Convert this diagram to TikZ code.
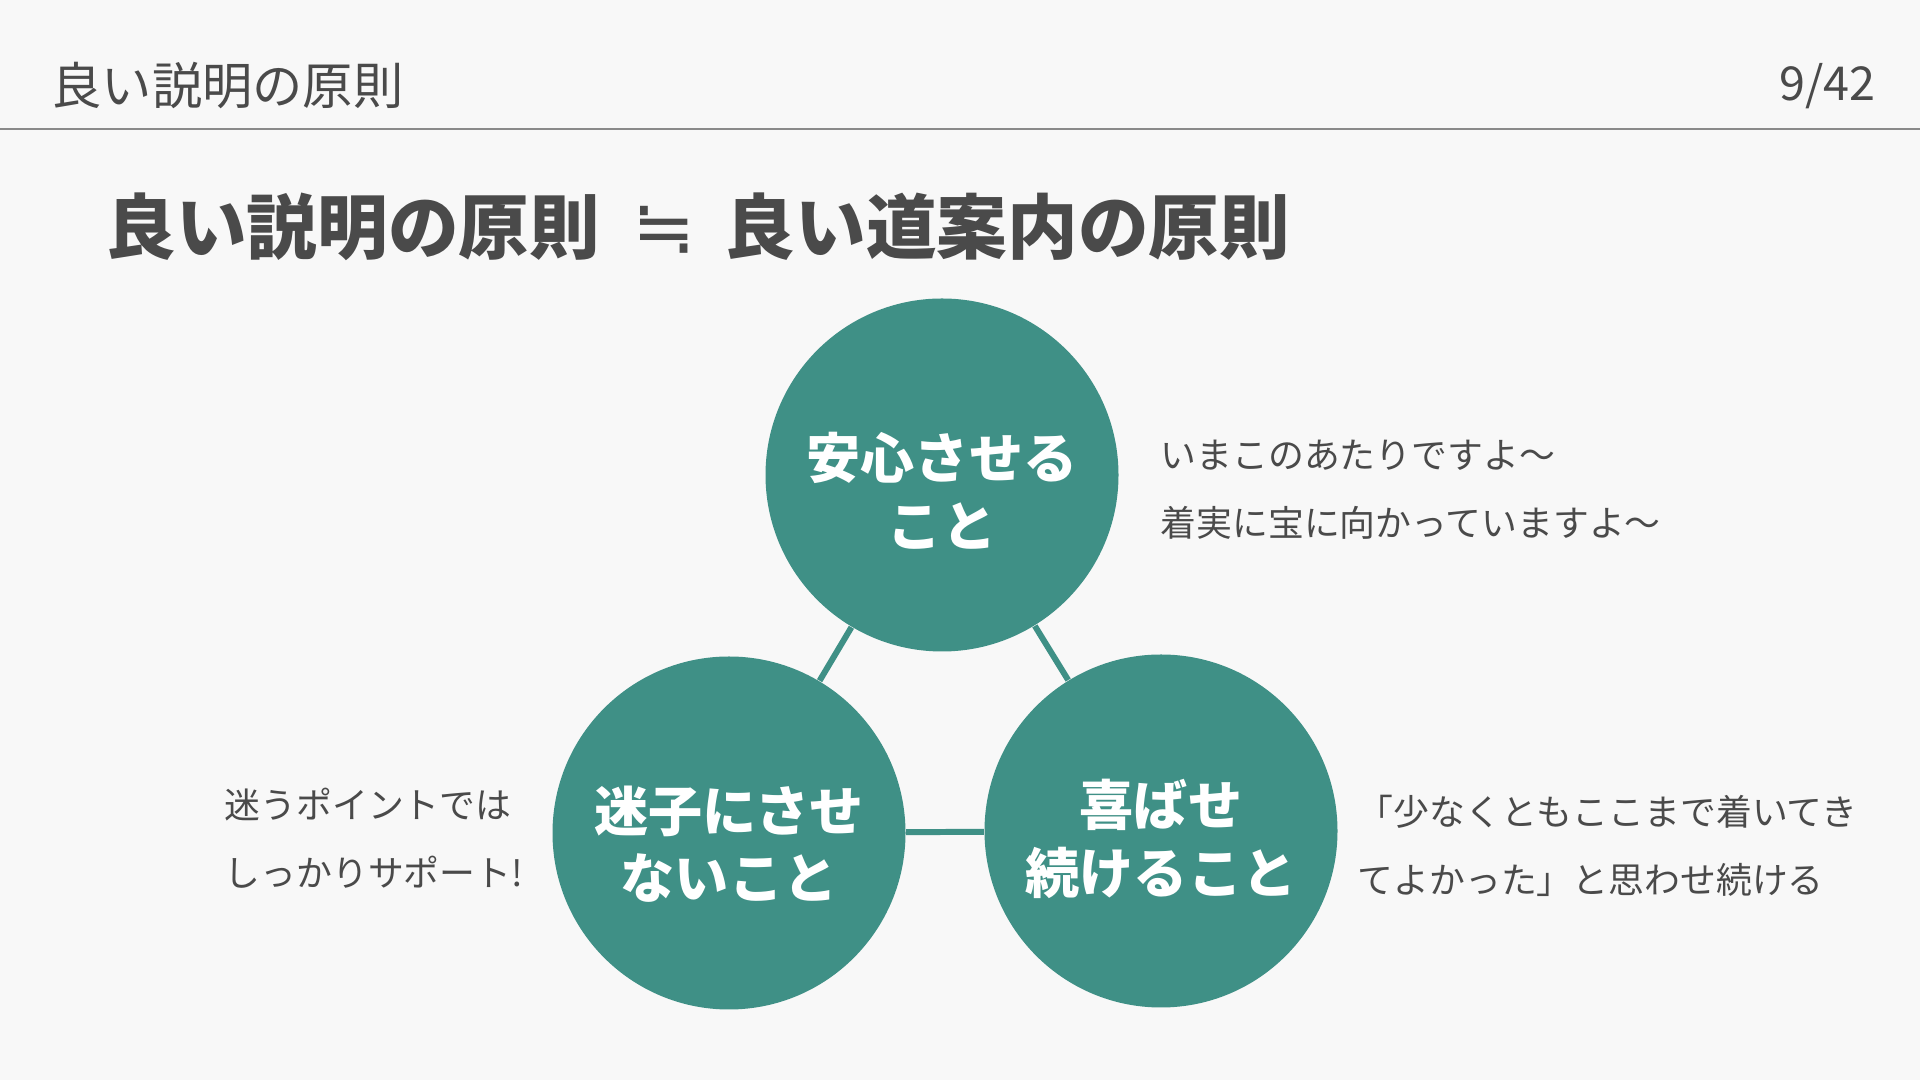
\documentclass[tikz,border=0pt]{standalone}
\usepackage{fontspec}
\setmainfont{Noto Sans CJK JP}
\newfontfamily\symfont{DejaVu Sans}
\definecolor{paper}{HTML}{F8F8F8}
\definecolor{ink}{HTML}{4A4A4A}
\definecolor{rulegray}{HTML}{8A8A8A}
\definecolor{sea}{HTML}{3F9086}
\begin{document}
\begin{tikzpicture}[
  circ/.style={circle, fill=sea, minimum size=3.53cm, inner sep=0pt},
  circtext/.style={text=white, align=center, inner sep=0pt,
    font=\fontsize{15.4}{19.2}\selectfont\bfseries},
  memo/.style={text=ink, align=left, inner sep=0pt, anchor=west,
    font=\fontsize{10.2}{19.3}\selectfont},
  link/.style={sea, line width=1.7pt}
]
  % page
  \fill[paper] (0,0) rectangle (19.2,10.8);
  \useasboundingbox (0,0) rectangle (19.2,10.8);
  % header
  \node[anchor=west, inner sep=0pt, text=ink, font=\fontsize{14.3}{17}\selectfont] (head) at (0.51,9.94) {良い説明の原則};
  \node[anchor=east, inner sep=0pt, text=ink, font=\fontsize{13.3}{16}\selectfont] (page) at (18.76,9.94) {9/42};
  \draw[rulegray, line width=0.6pt] (0,9.51) -- (19.2,9.51);
  % title
  \node[anchor=west, inner sep=0pt, text=ink, font=\fontsize{20.1}{24}\selectfont\bfseries] (title) at (1.05,8.53) {良い説明の原則\hspace{0.16cm} {\symfont\mdseries\fontsize{21.5}{24}\selectfont ≒} \hspace{0.13cm}良い道案内の原則};
  % three circles
  \node[circ] (calm) at (9.42,6.05) {};
  \node[circ] (lost) at (7.29,2.47) {};
  \node[circ] (joy) at (11.61,2.49) {};
  \node[circtext] (calmtext) at ([yshift=-0.16cm]calm) {安心させる\\こと};
  \node[circtext] (losttext) at ([yshift=-0.11cm]lost) {迷子にさせ\\ないこと};
  \node[circtext] (joytext) at ([yshift=-0.08cm]joy) {喜ばせ\\続けること};
  \draw[link] (calm) -- (lost);
  \draw[link] (calm) -- (joy);
  \draw[link] (lost) -- (joy);
  % notes
  \node[memo] (calmnote) at (11.60,5.905) {いまこのあたりですよ〜\\着実に宝に向かっていますよ〜};
  \node[memo] (lostnote) at (2.24,2.42) {迷うポイントでは\\しっかりサポート!};
  \node[memo] (joynote) at (13.57,2.345) {「少なくともここまで着いてき\\てよかった」と思わせ続ける};
\end{tikzpicture}
\end{document}
